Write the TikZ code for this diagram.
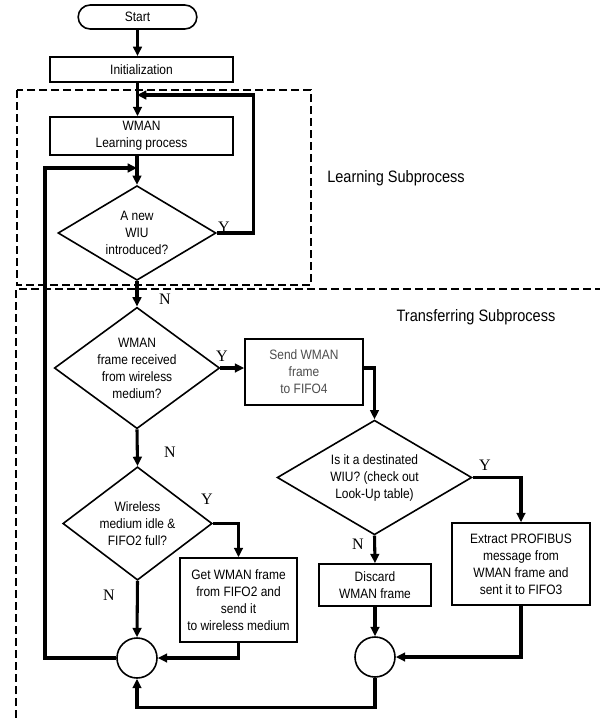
\documentclass[tikz,border=0pt]{standalone}
\usepackage{fontspec}
\setmainfont{Liberation Sans}[FakeStretch=0.88]
\newfontfamily\ynfont{Liberation Serif}
\usepackage{tikz}
\usetikzlibrary{shapes.geometric, arrows.meta, positioning}
\tikzstyle{arrow} = [line width=2.3pt,-{Triangle[length=7pt,width=6.5pt]}]
\tikzstyle{flow} = [line width=2.3pt]
\tikzstyle{procbox} = [rectangle, draw=black, line width=1.2pt, text centered, align=center, inner sep=1pt, font=\fontsize{10.2}{12.75}\selectfont]
\tikzstyle{decision} = [diamond, draw=black, line width=1.2pt, align=center, inner sep=0pt, font=\fontsize{10.2}{12.75}\selectfont]
\tikzstyle{junction} = [circle, draw=black, line width=1.2pt, minimum size=30pt, inner sep=0pt]
\tikzstyle{subproc} = [draw=black, line width=1.8pt, dash pattern=on 6pt off 3pt]
\tikzstyle{yn} = [font=\ynfont\fontsize{12}{12}\selectfont, inner sep=0pt]
\tikzstyle{sublabel} = [font=\fontsize{12.4}{14}\selectfont]

\begin{document}
\begin{tikzpicture}[x=0.75pt,y=-0.75pt]
	\useasboundingbox (0,0) rectangle (600,718);
	% sub-process frames
	\draw[subproc] (17,90) rectangle (311,285);
	\draw[subproc] (16,718) -- (16,289) -- (600,289);
	\node[sublabel](lrnlbl) at (396,178){Learning Subprocess};
	\node[sublabel](trflbl) at (476,317){Transferring Subprocess};
	% steps
	\node[procbox,rounded corners=9pt,minimum width=89pt,minimum height=18pt](start) at (137.5,17){Start};
	\node[procbox,minimum width=137pt,minimum height=19pt](init) at (141.5,69.5){Initialization};
	\node[procbox,minimum width=137pt,minimum height=28.5pt](learn) at (141.5,136){WMAN\\Learning process};
	\node[decision,minimum width=118.5pt,minimum height=71pt,shape aspect=1.66](newwiu) at (137,233){A new\\WIU\\introduced?};
	\node[decision,minimum width=124pt,minimum height=91pt,shape aspect=1.36](rcvd) at (137,368){WMAN\\frame received\\from wireless\\medium?};
	\node[decision,minimum width=112pt,minimum height=85pt,shape aspect=1.32](idle) at (137.5,523.5){Wireless\\medium idle \&\\FIFO2 full?};
	\node[procbox,minimum width=88.5pt,minimum height=49.5pt,text=black!70](send) at (304,372){Send WMAN\\frame\\to FIFO4};
	\node[decision,minimum width=146pt,minimum height=86pt,shape aspect=1.7](dest) at (374.5,477.5){Is it a destinated\\WIU? (check out\\Look-Up table)};
	\node[procbox,minimum width=88pt,minimum height=63pt](getfr) at (238.5,600){Get WMAN frame\\from FIFO2 and\\send it\\to wireless medium};
	\node[procbox,minimum width=84pt,minimum height=31.5pt](discard) at (375,585){Discard\\WMAN frame};
	\node[procbox,minimum width=103.5pt,minimum height=61.5pt](extract) at (521,564){Extract PROFIBUS\\message from\\WMAN frame and\\sent it to FIFO3};
	\node[junction](joinA) at (137,658){};
	\node[junction](joinB) at (375,657){};
	\coordinate (loopin) at (137,95);
	\coordinate (backin) at (45,168);
	% Y / N marks
	\node[yn](y1) at (224,227){Y};
	\node[yn](n1) at (165,299){N};
	\node[yn](y2) at (222,356){Y};
	\node[yn](n2) at (170,452){N};
	\node[yn](y4) at (207,499){Y};
	\node[yn](n4) at (109,595){N};
	\node[yn](y3) at (485,465){Y};
	\node[yn](n3) at (358,544){N};
	% connectors
	\path[arrow]
	(start.south) edge (start.south |- init.north)
	(init.south -| start) edge (learn.north -| start)
	(learn.south -| newwiu) edge (newwiu.north)
	(newwiu.south) edge (rcvd.north)
	(rcvd.east) edge (send.west |- rcvd.east)
	(rcvd.south) edge (idle.north)
	(idle.south) edge (joinA.north)
	(dest.south) edge (discard.north)
	(discard.south) edge (joinB.north);
	\draw[arrow] (newwiu.east) -- ++(37,0) |- (loopin);
	\draw[arrow] (send.east |- rcvd.east) -| (dest.north);
	\draw[arrow] (dest.east) -| (extract.north);
	\draw[arrow] (idle.east) -| (getfr.north);
	\draw[arrow] (getfr.south) |- (joinA.east);
	\draw[arrow] (extract.south) |- (joinB.east);
	\draw[arrow] (joinB.south) -- ++(0,30) -| (joinA.south);
	\draw[arrow] (joinA.west) -| (backin) -- (backin -| newwiu);
\end{tikzpicture}
\end{document}
